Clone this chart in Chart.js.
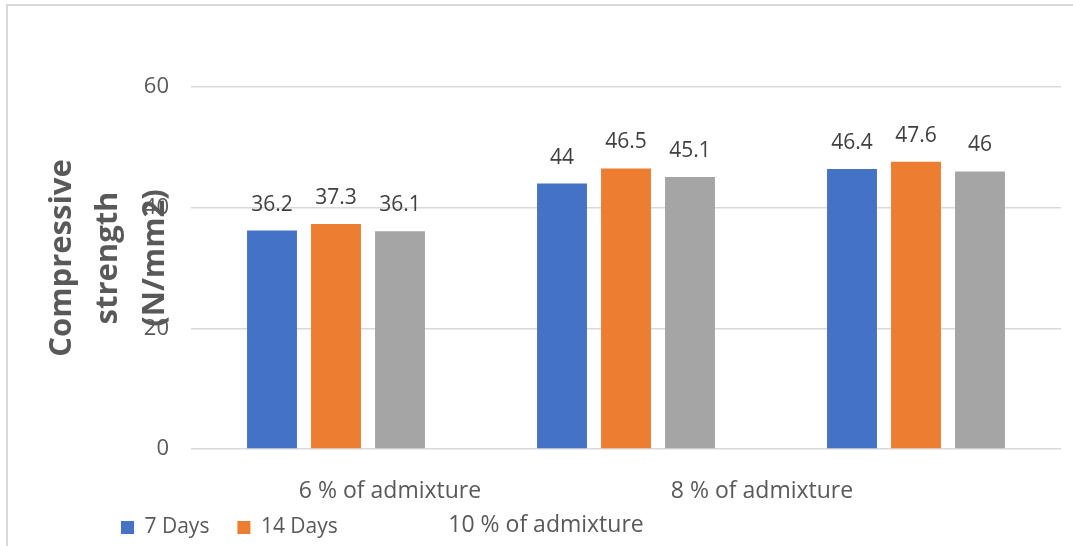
<!DOCTYPE html>
<html>
<head>
<meta charset="utf-8">
<script src="https://cdn.jsdelivr.net/npm/chart.js@4/dist/chart.umd.min.js"></script>
<style>
  html, body { margin: 0; padding: 0; background: #fff; overflow: hidden; }
  #wrap { width: 1073px; height: 546px; }
</style>
</head>
<body>
<div id="wrap"><canvas id="strength-chart" width="1073" height="546"></canvas></div>
<script>
var categories = ["6 % of admixture", "8 % of admixture", "10 % of admixture"]
var days7 = [36.2, 44, 46.4]
var days14 = [37.3, 46.5, 47.6]
var days28 = [36.1, 45.1, 46]
var yTicks = [0, 20, 40, 60]
var yTitle = ["Compressive", "strength", "(N/mm2)"]

var FONT = "'Open Sans', 'DejaVu Sans', sans-serif"

// text drawn straight on the canvas: frame, axis title, category labels, values
var extras = {
  id: 'extras',
  afterDraw: function (chart) {
    var ctx = chart.ctx
    var area = chart.chartArea
    ctx.save()

    // outer frame
    ctx.strokeStyle = '#d9d9d9'
    ctx.lineWidth = 2
    ctx.beginPath()
    ctx.moveTo(7, 546)
    ctx.lineTo(7, 5)
    ctx.lineTo(1073, 5)
    ctx.stroke()

    // y axis title, three lines, overlaps the ticks like the original
    ctx.fillStyle = '#595959'
    ctx.font = 'bold 31px ' + FONT
    ctx.textAlign = 'center'
    ctx.textBaseline = 'middle'
    var offs = [-129, -83, -36]
    yTitle.forEach(function (line, i) {
      ctx.save()
      ctx.translate(area.left + offs[i], 258)
      ctx.rotate(-Math.PI / 2)
      ctx.fillText(line, 0, 0)
      ctx.restore()
    })

    // category labels (staggered as in the source)
    ctx.font = '23px ' + FONT
    var spots = [[390, 491], [762, 491], [546, 525]]
    categories.forEach(function (c, i) {
      ctx.fillText(c, spots[i][0], spots[i][1])
    })

    // value labels above bars
    ctx.fillStyle = '#404040'
    ctx.font = '21px ' + FONT
    chart.data.datasets.forEach(function (ds, di) {
      chart.getDatasetMeta(di).data.forEach(function (bar, i) {
        ctx.fillText(String(ds.data[i]), bar.x, bar.y - 26)
      })
    })
    ctx.restore()
  }
}

var strengthChart = new Chart(document.getElementById('strength-chart'), {
  type: 'bar',
  data: {
    labels: categories,
    datasets: [
      { label: "7 Days", backgroundColor: "#4472C4", data: days7 },
      { label: "14 Days", backgroundColor: "#ED7D31", data: days14 },
      { label: "28 Days", backgroundColor: "#A5A5A5", data: days28 }
    ]
  },
  options: {
    responsive: false, animation: false,
    categoryPercentage: 0.662, barPercentage: 0.78,
    layout: { padding: { top: 87, left: 93, right: 12, bottom: -2 } },
    scales: {
      x: {
        grid: { display: false },
        border: { display: false },
        ticks: { display: false },
        afterFit: function (s) { s.height = 40 }
      },
      y: {
        min: 0, max: 60,
        afterBuildTicks: function (s) { s.ticks = yTicks.map(function (v) { return { value: v } }) },
        grid: { color: '#d9d9d9', lineWidth: 1.5, drawTicks: false },
        border: { display: false },
        ticks: { color: '#595959', font: { family: FONT, size: 22 }, padding: 22 },
        afterFit: function (s) { s.width = 98 }
      }
    },
    plugins: {
      legend: {
        display: true, position: 'bottom', align: 'start',
        labels: {
          boxWidth: 13, boxHeight: 13, padding: 28, color: '#595959',
          font: { family: FONT, size: 21 },
          filter: function (item) { return item.datasetIndex < 2 }
        }
      },
      title: { display: false },
      tooltip: { enabled: false }
    }
  },
  plugins: [extras]
});
</script>
</body>
</html>
